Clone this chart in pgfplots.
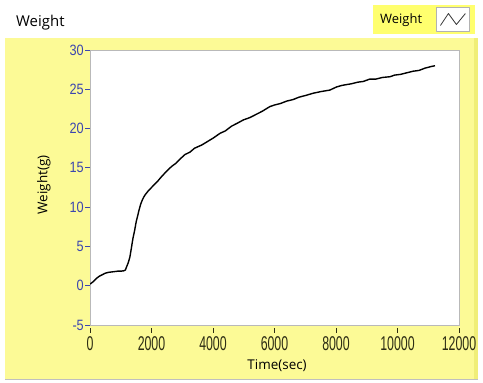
\documentclass[border=0pt]{standalone}
\usepackage{fontspec}
\setmainfont{Open Sans}
\newfontfamily\xtickfont[FakeStretch=0.62]{Liberation Sans}
\newfontfamily\ytickfont[FakeStretch=0.85]{Liberation Sans}
\usepackage{pgfplots}
\pgfplotsset{compat=1.18}
\definecolor{panel}{RGB}{252,250,150}
\definecolor{paneledge}{RGB}{240,238,120}
\definecolor{legyellow}{RGB}{255,255,110}
\definecolor{yblue}{RGB}{60,70,175}
\definecolor{xdark}{RGB}{45,45,20}
\begin{document}
\begin{tikzpicture}
\useasboundingbox (0,0) rectangle (483bp,383bp);
\fill[white] (0,0) rectangle (483bp,383bp);
\fill[panel] (5bp,4bp) rectangle (478bp,345bp);
\fill[paneledge] (474bp,4bp) rectangle (478bp,345bp);
\draw[gray!50,line width=0.8bp] (5bp,4bp) -- (478bp,4bp);
\node[anchor=base west,inner sep=0pt,font=\fontsize{15}{18}\selectfont] at (16bp,356bp) {Weight};
\begin{axis}[
  at={(90bp,58bp)}, anchor=south west,
  scale only axis, width=369bp, height=275bp,
  xmin=0, xmax=12000, ymin=-5, ymax=30,
  xtick={0,2000,...,12000}, ytick={-5,0,...,30},
  xtick pos=bottom, ytick pos=left,
  /pgf/number format/assume math mode=true,
  /pgf/number format/1000 sep={},
  scaled x ticks=false,
  axis background/.style={fill=white},
  axis line style={draw=gray!55, line width=0.7bp},
  tick align=outside,
  major tick length=5bp,
  xtick style={draw=xdark, line width=0.8bp, yshift=-3bp},
  ytick style={draw=yblue, line width=0.8bp},
  xticklabel style={font=\xtickfont\fontsize{20}{20}\selectfont, text=xdark, yshift=-3bp},
  yticklabel style={font=\ytickfont\fontsize{15}{15}\selectfont, text=yblue, inner sep=1bp},
  xlabel={Time(sec)},
  ylabel={Weight(g)},
  xlabel style={at={(axis description cs:0.507,-0.1636)}, anchor=base, font=\fontsize{13.5}{16}\selectfont, inner sep=0pt},
  ylabel style={at={(axis description cs:-0.125,0.509)}, anchor=center, font=\fontsize{13.5}{16}\selectfont, inner sep=0pt},
  legend plot pos=right,
  legend style={at={(axis description cs:0.767,1.1636)}, anchor=north west,
    fill=legyellow, draw=none, font=\fontsize{13}{15}\selectfont,
    inner xsep=5bp, inner ysep=2bp,
    /tikz/every odd column/.style={column sep=12bp}},
  legend image code/.code={
    \draw[fill=white,draw=gray!60,line width=0.6bp] (0bp,-12bp) rectangle (33bp,12bp);
    \draw[black!80,line width=0.8bp] (4bp,-6bp) -- (12bp,6bp) -- (20bp,-5bp) -- (29bp,6bp);
  },
]
\addplot[black, line width=1.4bp, line join=round] coordinates {
(0,0.2) (100,0.5) (200,0.9) (300,1.2) (400,1.4) (500,1.6) (600,1.7) (700,1.75)
(800,1.8) (900,1.85) (1000,1.85) (1100,1.9) (1150,2.0) (1200,2.5) (1250,3.0)
(1300,3.7) (1350,4.9) (1400,6.1) (1450,7.0) (1500,8.1) (1550,8.9) (1600,9.7)
(1650,10.4) (1700,10.9) (1750,11.3) (1800,11.6) (1900,12.1) (2000,12.5)
(2100,12.9) (2200,13.3) (2330,13.9) (2450,14.4) (2550,14.8) (2660,15.2)
(2800,15.6) (2950,16.2) (3090,16.7) (3250,17.0) (3400,17.5) (3630,17.9)
(3800,18.3) (4010,18.8) (4230,19.4) (4400,19.7) (4600,20.3) (4800,20.7)
(4985,21.1) (5200,21.4) (5400,21.8) (5600,22.2) (5850,22.8) (6000,23.0)
(6200,23.2) (6400,23.5) (6610,23.7) (6800,24.0) (7000,24.2) (7260,24.5)
(7500,24.7) (7800,24.9) (8020,25.3) (8200,25.5) (8500,25.7) (8700,25.9)
(8890,26.0) (9100,26.3) (9300,26.3) (9500,26.5) (9760,26.6) (9900,26.8)
(10100,26.9) (10300,27.1) (10510,27.3) (10700,27.4) (10900,27.7) (11100,27.9)
(11220,28.0)
};
\addlegendentry{Weight}
\end{axis}
\end{tikzpicture}
\end{document}
